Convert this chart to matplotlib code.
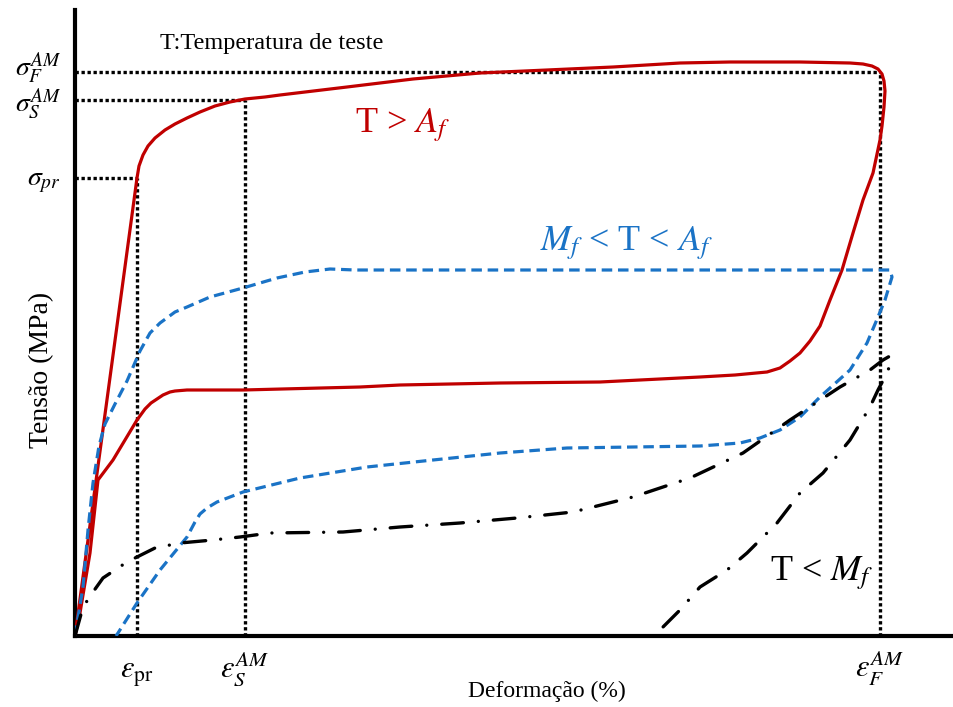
#!/usr/bin/env python3
import matplotlib as mpl
mpl.use('Agg')
import matplotlib.pyplot as plt
from matplotlib.transforms import ScaledTranslation


# +
# data: schematic stress-strain loops (strain in %, stress in MPa)
# -
# T > Af : superelastic loop
red_strain = [0.00, 0.62, 0.64, 0.68, 0.73, 0.80, 0.90, 1.00, 1.12, 1.25, 1.40, 1.55,
              1.70, 1.90, 2.05, 2.72, 3.38, 4.05, 4.72, 5.38, 6.05, 6.55, 7.25, 7.75,
              7.88, 7.97, 8.03, 8.07, 8.09, 8.10, 8.09, 8.07, 8.05, 7.98, 7.88, 7.78,
              7.67, 7.55, 7.45, 7.35, 7.25, 7.15, 7.05, 6.92, 6.60, 6.25, 5.25, 4.25,
              3.25, 2.85, 1.68, 1.12, 1.00, 0.95, 0.88, 0.82, 0.76, 0.70, 0.62, 0.50,
              0.38, 0.23, 0.15, 0.05, 0.00]
red_stress = [0, 458, 470, 481, 490, 498, 506, 512, 518, 524, 530, 534,
              537, 539, 541, 549, 557, 563, 566, 569, 573, 574, 574, 573,
              572, 570, 567, 562, 555, 545, 529, 510, 496, 463, 436, 403,
              366, 336, 310, 295, 283, 275, 268, 264, 261, 259, 254, 253,
              251, 249, 246, 246, 245, 244, 241, 237, 233, 227, 216, 196,
              176, 156, 83, 23, 0]

# Mf < T < Af : partial recovery
blue_strain = [0.00, 0.08, 0.13, 0.18, 0.24, 0.30, 0.40, 0.52, 0.65, 0.75, 0.85, 1.00,
               1.12, 1.35, 1.68, 2.02, 2.30, 2.55, 2.80, 8.10, 8.15, 8.17, 8.10, 8.03,
               7.92, 7.75, 7.45, 7.25, 7.05, 6.85, 6.65, 6.25, 5.58, 4.92, 4.25, 3.58,
               2.92, 2.25, 1.68, 1.42, 1.32, 1.25, 1.20, 1.12, 0.85, 0.62, 0.43, 0.41]
blue_stress = [0, 49, 106, 153, 190, 212, 232, 255, 285, 303, 313, 324,
               329, 339, 348, 358, 364, 367, 366, 366, 366, 359, 336, 319,
               293, 266, 239, 219, 206, 198, 193, 190, 189, 188, 183, 176,
               169, 158, 144, 134, 128, 122, 114, 99, 66, 33, 3, 0]

# T < Mf : martensite, residual strain after unloading
black_strain = [0.00, 0.08, 0.18, 0.28, 0.52, 0.80, 1.05, 1.38, 1.65, 1.95, 2.68, 3.25,
                3.85, 4.42, 4.98, 5.58, 6.15, 6.68, 7.15, 7.65, 7.95, 8.08, 8.15, 8.16,
                8.12, 8.03, 7.95, 7.75, 7.48, 7.25, 7.02, 6.72, 6.52, 6.25, 6.05, 5.82,
                5.79]
black_stress = [0, 29, 44, 58, 74, 88, 93, 96, 99, 103, 104, 109,
                113, 118, 124, 139, 158, 183, 216, 249, 266, 276, 280, 274,
                263, 246, 229, 196, 163, 143, 113, 83, 66, 49, 26, 3,
                0]

# characteristic points
eps_pr, eps_s, eps_f = 0.62, 1.70, 8.05
sig_pr, sig_s, sig_f = 458, 536, 564

x_ticks = [eps_pr, eps_s, eps_f]
x_tick_labels = [r'$\varepsilon_{\mathrm{pr}}$', r'$\varepsilon_S^{AM}$', r'$\varepsilon_F^{AM}$']
y_ticks = [sig_pr, sig_s, sig_f]
y_tick_labels = [r'$\sigma_{pr}$', r'$\sigma_S^{AM}$', r'$\sigma_F^{AM}$']


# +
# style
# -
plt.rcParams['font.family'] = ['Liberation Serif', 'DejaVu Serif']
plt.rcParams['mathtext.fontset'] = 'stix'

RED = '#c00000'
BLUE = '#1a73c6'

fig = plt.figure(figsize=(9.54, 7.07), dpi=100)
ax = fig.add_axes([75 / 954, 71 / 707, 879 / 954, 626 / 707])
ax.set_xlim(0, 8.79)
ax.set_ylim(0, 626)

# reference lines
dot = dict(color='black', lw=2.4, linestyle=(0, (1, 0.8)), zorder=3)
ax.plot([0, eps_pr], [sig_pr, sig_pr], **dot)
ax.plot([eps_pr, eps_pr], [0, sig_pr], **dot)
ax.plot([0, eps_s], [sig_s, sig_s], **dot)
ax.plot([eps_s, eps_s], [0, sig_s], **dot)
ax.plot([0, eps_f], [sig_f, sig_f], **dot)
ax.plot([eps_f, eps_f], [0, sig_f], **dot)

# curves
ax.plot(red_strain, red_stress, color=RED, lw=2.3, zorder=4,
        solid_joinstyle='round', solid_capstyle='round')
ax.plot(blue_strain, blue_stress, color=BLUE, lw=2.3, linestyle=(0, (3.3, 1.8)),
        zorder=4, dash_joinstyle='round')
ax.plot(black_strain, black_stress, color='black', lw=2.4,
        linestyle=(0, (6.5, 4.5, 0.01, 4.5)), dash_capstyle='round',
        dash_joinstyle='round', zorder=4)

# axes
for side in ['top', 'right']:
    ax.spines[side].set_visible(False)
for side in ['left', 'bottom']:
    ax.spines[side].set_linewidth(3)
ax.set_xticks(x_ticks)
ax.set_xticklabels(x_tick_labels, fontsize=22, va='baseline')
ax.set_yticks(y_ticks)
ax.set_yticklabels(y_tick_labels, fontsize=20)
ax.tick_params(axis='x', length=0, pad=30)
ax.tick_params(axis='y', length=0, pad=10)

# lift the top stress label so it clears the one below it
_top = ax.get_yticklabels()[2]
_top.set_transform(_top.get_transform() + ScaledTranslation(0, 6 / 72, fig.dpi_scale_trans))

ax.set_xlabel('Deformação (%)', fontsize=17)
ax.xaxis.set_label_coords(0.537, -0.071)
ax.set_ylabel('Tensão (MPa)', fontsize=20)
ax.yaxis.set_label_coords(-0.024, 0.425)

# annotations
ax.text(0.85, 592, 'T:Temperatura de teste', fontsize=17.5, va='center')
ax.text(2.80, 504, r'T > $A_f$', fontsize=26, color=RED)
ax.text(4.65, 386, r'$M_f$ < T < $A_f$', fontsize=26, color=BLUE)
ax.text(6.95, 56, r'T < $M_f$', fontsize=26, color='black')

fig.savefig('out.png', dpi=100)
